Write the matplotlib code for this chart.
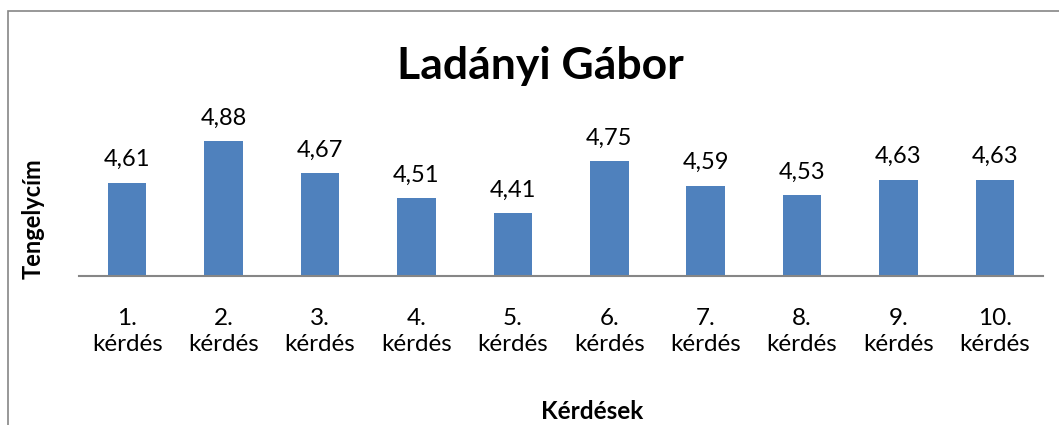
import numpy as np
import matplotlib
matplotlib.use("Agg")
import matplotlib.pyplot as plt
from matplotlib.patches import Rectangle

plt.rcParams['font.family'] = ['Lato', 'DejaVu Sans']

# data
categories = ["1.\nkérdés", "2.\nkérdés", "3.\nkérdés", "4.\nkérdés", "5.\nkérdés",
              "6.\nkérdés", "7.\nkérdés", "8.\nkérdés", "9.\nkérdés", "10.\nkérdés"]
values = [4.61, 4.88, 4.67, 4.51, 4.41, 4.75, 4.59, 4.53, 4.63, 4.63]
value_labels = ["4,61", "4,88", "4,67", "4,51", "4,41", "4,75", "4,59", "4,53", "4,63", "4,63"]

fig = plt.figure(figsize=(10.59, 4.25), dpi=100)
ax = fig.add_axes([0.0746, 0.3506, 0.9104, 0.36])

x = np.arange(len(values))
ax.bar(x, values, width=0.4, color="#4F81BD")
ax.set_xlim(-0.5, 9.5)
ax.set_ylim(4, 5)

for xi, v, lab in zip(x, values, value_labels):
    ax.annotate(lab, (xi, v), xytext=(0, 9), textcoords="offset points",
                ha="center", va="bottom", fontsize=17)

ax.set_xticks(x)
ax.set_xticklabels(categories, fontsize=17.5, linespacing=1.3)
ax.tick_params(axis="x", length=0, pad=23)
ax.set_yticks([])
for s in ["top", "right", "left"]:
    ax.spines[s].set_visible(False)
ax.spines["bottom"].set_color("#868686")
ax.spines["bottom"].set_linewidth(1.5)

fig.text(0.51, 0.845, "Ladányi Gábor", ha="center", va="center",
         fontsize=32, fontweight="bold")
fig.text(0.031, 0.485, "Tengelycím", ha="center", va="center", rotation=90,
         fontsize=17, fontweight="bold")
fig.text(0.559, 0.031, "Kérdések", ha="center", va="center",
         fontsize=17.5, fontweight="bold")

# chart border
fig.patches.append(Rectangle((8 / 1059, -0.1), 1.2, 1.1 - 11 / 425,
                             transform=fig.transFigure, fill=False,
                             edgecolor="#868686", linewidth=1.2))

fig.savefig("out.png", dpi=100)
